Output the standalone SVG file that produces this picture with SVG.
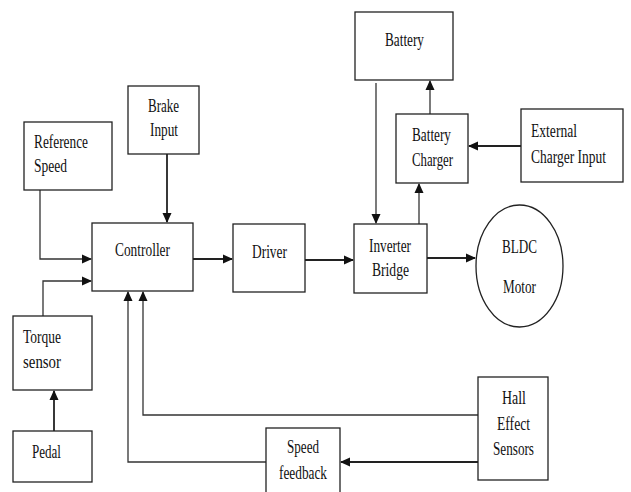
<svg xmlns="http://www.w3.org/2000/svg" width="631" height="492" viewBox="0 0 631 492">
<style>
.box{fill:#fff;stroke:#222;stroke-width:1.3}
.ln{fill:none;stroke:#222;stroke-width:1.8}
.lt{fill:none;stroke:#333;stroke-width:1.3}
text{font-family:"Liberation Serif","Times New Roman",serif;font-size:19px;fill:#111}
</style>
<defs>
<marker id="ah" markerUnits="userSpaceOnUse" markerWidth="10" markerHeight="10" viewBox="0 0 10 10" refX="9" refY="5" orient="auto">
<path d="M0,0.5 L10,5 L0,9.5 Z" fill="#111"/>
</marker>
</defs>
<rect width="631" height="492" fill="#fff"/>
<g id="connectors">
<polyline class="lt" points="40,190 40,259 91,259" marker-end="url(#ah)"/>
<polyline class="lt" points="43,316 43,281 91,281" marker-end="url(#ah)"/>
<line class="ln" x1="167" y1="154" x2="167" y2="222" marker-end="url(#ah)"/>
<line class="ln" x1="54" y1="431" x2="54" y2="391" marker-end="url(#ah)"/>
<line class="ln" x1="193" y1="259" x2="232" y2="259" marker-end="url(#ah)"/>
<line class="ln" x1="305" y1="260" x2="353" y2="260" marker-end="url(#ah)"/>
<line class="ln" x1="427" y1="258" x2="475" y2="258" marker-end="url(#ah)"/>
<line class="lt" x1="376" y1="83" x2="376" y2="223" marker-end="url(#ah)"/>
<line class="lt" x1="419" y1="224" x2="419" y2="184" marker-end="url(#ah)"/>
<line class="lt" x1="430" y1="114" x2="430" y2="81" marker-end="url(#ah)"/>
<line class="ln" x1="521" y1="146" x2="469" y2="146" marker-end="url(#ah)"/>
<polyline class="lt" points="478,415 143,415 143,292" marker-end="url(#ah)"/>
<polyline class="lt" points="266,462 128,462 128,292" marker-end="url(#ah)"/>
<line class="ln" x1="478" y1="462" x2="341" y2="462" marker-end="url(#ah)"/>
</g>
<g id="reference-speed">
<rect class="box" x="24" y="122" width="88" height="68"/>
<text x="34" y="148" textLength="54" lengthAdjust="spacingAndGlyphs">Reference</text>
<text x="34" y="172" textLength="33" lengthAdjust="spacingAndGlyphs">Speed</text>
</g>
<g id="brake-input">
<rect class="box" x="128" y="86" width="71" height="68"/>
<text x="148" y="112" textLength="31" lengthAdjust="spacingAndGlyphs">Brake</text>
<text x="150" y="136" textLength="28" lengthAdjust="spacingAndGlyphs">Input</text>
</g>
<g id="controller">
<rect class="box" x="92" y="223" width="101" height="68"/>
<text x="115" y="256" textLength="55" lengthAdjust="spacingAndGlyphs">Controller</text>
</g>
<g id="driver">
<rect class="box" x="233" y="224" width="72" height="68"/>
<text x="252" y="258" textLength="35" lengthAdjust="spacingAndGlyphs">Driver</text>
</g>
<g id="inverter-bridge">
<rect class="box" x="354" y="224" width="73" height="69"/>
<text x="369" y="252" textLength="42" lengthAdjust="spacingAndGlyphs">Inverter</text>
<text x="372" y="276" textLength="37" lengthAdjust="spacingAndGlyphs">Bridge</text>
</g>
<g id="bldc-motor">
<ellipse class="box" cx="519.5" cy="266" rx="43.5" ry="61"/>
<text x="502" y="253" textLength="35" lengthAdjust="spacingAndGlyphs">BLDC</text>
<text x="503" y="293" textLength="33" lengthAdjust="spacingAndGlyphs">Motor</text>
</g>
<g id="battery">
<rect class="box" x="355" y="12" width="98" height="68"/>
<text x="385" y="46" textLength="39" lengthAdjust="spacingAndGlyphs">Battery</text>
</g>
<g id="battery-charger">
<rect class="box" x="396" y="114" width="72" height="69"/>
<text x="412" y="141" textLength="39" lengthAdjust="spacingAndGlyphs">Battery</text>
<text x="412" y="166" textLength="41" lengthAdjust="spacingAndGlyphs">Charger</text>
</g>
<g id="external-charger-input">
<rect class="box" x="521" y="109" width="102" height="73"/>
<text x="531" y="137" textLength="46" lengthAdjust="spacingAndGlyphs">External</text>
<text x="531" y="163" textLength="75" lengthAdjust="spacingAndGlyphs">Charger Input</text>
</g>
<g id="torque-sensor">
<rect class="box" x="13" y="316" width="79" height="74"/>
<text x="23" y="343" textLength="38" lengthAdjust="spacingAndGlyphs">Torque</text>
<text x="23" y="368" textLength="38" lengthAdjust="spacingAndGlyphs">sensor</text>
</g>
<g id="pedal">
<rect class="box" x="13" y="431" width="79" height="51"/>
<text x="32" y="458" textLength="29" lengthAdjust="spacingAndGlyphs">Pedal</text>
</g>
<g id="hall-effect-sensors">
<rect class="box" x="478" y="377" width="70" height="103"/>
<text x="502" y="404" textLength="24" lengthAdjust="spacingAndGlyphs">Hall</text>
<text x="497" y="430" textLength="33" lengthAdjust="spacingAndGlyphs">Effect</text>
<text x="493" y="455" textLength="41" lengthAdjust="spacingAndGlyphs">Sensors</text>
</g>
<g id="speed-feedback">
<rect class="box" x="266" y="428" width="74" height="70"/>
<text x="287" y="453" textLength="32" lengthAdjust="spacingAndGlyphs">Speed</text>
<text x="279" y="479" textLength="48" lengthAdjust="spacingAndGlyphs">feedback</text>
</g>
</svg>
